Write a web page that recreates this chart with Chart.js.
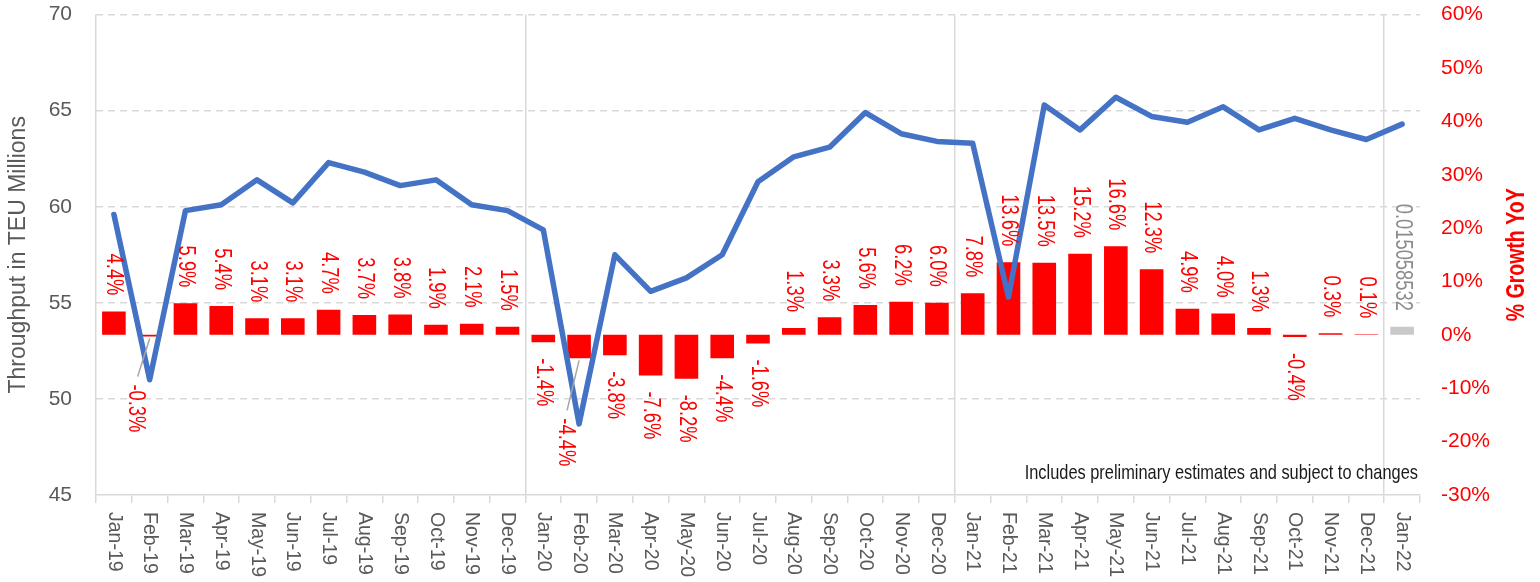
<!DOCTYPE html>
<html>
<head>
<meta charset="utf-8">
<script src="https://cdn.jsdelivr.net/npm/chart.js@4.4.1/dist/chart.umd.min.js"></script>
<style>
  html, body { margin: 0; padding: 0; background: #ffffff; overflow: hidden; }
  #wrap { width: 1540px; height: 582px; position: relative; overflow: hidden; }
  #c { display: block; }
</style>
</head>
<body>
<div id="wrap"><canvas id="c" width="1540" height="582"></canvas></div>
<script>
// ---------------- DATA ----------------
const months = [
  'Jan-19','Feb-19','Mar-19','Apr-19','May-19','Jun-19','Jul-19','Aug-19','Sep-19','Oct-19','Nov-19','Dec-19',
  'Jan-20','Feb-20','Mar-20','Apr-20','May-20','Jun-20','Jul-20','Aug-20','Sep-20','Oct-20','Nov-20','Dec-20',
  'Jan-21','Feb-21','Mar-21','Apr-21','May-21','Jun-21','Jul-21','Aug-21','Sep-21','Oct-21','Nov-21','Dec-21',
  'Jan-22'
];
// Throughput in TEU millions (left axis)
const throughput = [
  59.6, 51.0, 59.8, 60.1, 61.4, 60.2, 62.3, 61.8, 61.1, 61.4, 60.1, 59.8,
  58.8, 48.7, 57.5, 55.6, 56.3, 57.5, 61.3, 62.6, 63.1, 64.9, 63.8, 63.4,
  63.3, 55.3, 65.3, 64.0, 65.7, 64.7, 64.4, 65.2, 64.0, 64.6, 64.0, 63.5,
  64.3
];
// % growth YoY (right axis); last value is the preliminary estimate
const growthPct = [
  4.4, -0.3, 5.9, 5.4, 3.1, 3.1, 4.7, 3.7, 3.8, 1.9, 2.1, 1.5,
  -1.4, -4.4, -3.8, -7.6, -8.2, -4.4, -1.6, 1.3, 3.3, 5.6, 6.2, 6.0,
  7.8, 13.6, 13.5, 15.2, 16.6, 12.3, 4.9, 4.0, 1.3, -0.4, 0.3, 0.1,
  1.5058532
];
const throughputTicks = [45, 50, 55, 60, 65, 70];
const growthTicks = [-30, -20, -10, 0, 10, 20, 30, 40, 50, 60];
const leftTitle = 'Throughput in TEU Millions';
const rightTitle = '% Growth YoY';
const noteText = 'Includes preliminary estimates and subject to changes';

// ---------------- STYLE ----------------
const SANS = "'Liberation Sans', Arial, sans-serif";
const SQUEEZE = 0.78;           // emulate a condensed face
const GRID = '#d9d9d9';
const AXIS_TXT = '#595959';
const RED = '#ff0000';
const BLUE = '#4472c4';
const PRELIM = '#c8c8c8';
const TARGET_TOP = 15;
// labels that were moved by hand in the original (with a leader line)
const movedLabels = { 1: { dx: -14, dy: 32 }, 13: { dx: -14, dy: 44 } };

function drawText(ctx, txt, x, y, rot, align, font, color, squeeze) {
  ctx.save();
  ctx.translate(x, y);
  ctx.rotate(rot);
  ctx.scale(squeeze, 1);
  ctx.font = font;
  ctx.fillStyle = color;
  ctx.textAlign = align;
  ctx.textBaseline = 'middle';
  ctx.fillText(txt, 0, 0);
  ctx.restore();
}

const overlay = {
  id: 'overlay',
  afterDatasetsDraw(chart) {
    const ctx = chart.ctx;
    const meta = chart.getDatasetMeta(1);
    const lastIdx = growthPct.length - 1;
    meta.data.forEach((el, i) => {
      const v = growthPct[i];
      const isLast = i === lastIdx;
      const txt = isLast ? (v / 100).toFixed(9) : v.toFixed(1) + '%';
      const pos = v >= 0;
      const sh = movedLabels[i] || { dx: 0, dy: 0 };
      const x = el.x + sh.dx;
      const y = pos ? el.y - 16 - sh.dy : el.y + 16 + sh.dy;
      if (movedLabels[i]) {
        ctx.save();
        ctx.strokeStyle = '#a6a6a6';
        ctx.lineWidth = 1.5;
        ctx.beginPath();
        ctx.moveTo(x + 2, y - 8);
        ctx.lineTo(el.x, el.y + 2);
        ctx.stroke();
        ctx.restore();
      }
      drawText(ctx, txt, x, y, Math.PI / 2, pos ? 'right' : 'left',
        '23.5px ' + SANS, isLast ? '#8c8c8c' : RED, SQUEEZE);
    });
  },
  afterDraw(chart) {
    const ctx = chart.ctx;
    const xs = chart.scales.x;
    const area = chart.chartArea;
    // x labels, rotated to read top-to-bottom
    chart.data.labels.forEach((lab, i) => {
      drawText(ctx, lab, xs.getPixelForTick(i), area.bottom + 17, Math.PI / 2, 'left',
        '19.5px ' + SANS, AXIS_TXT, 1);
    });
    // right axis title, reading bottom-to-top
    drawText(ctx, rightTitle, chart.width - 23, (area.top + area.bottom) / 2, -Math.PI / 2, 'center',
      'bold 25px ' + SANS, RED, SQUEEZE);
    // note
    drawText(ctx, noteText, area.right - 2, area.bottom - 22, 0, 'right',
      '21px ' + SANS, '#1a1a1a', SQUEEZE);
  }
};

function makeConfig() {
  return {
    data: {
      labels: months,
      datasets: [
        {
          type: 'line',
          label: 'Throughput',
          data: throughput,
          yAxisID: 'y',
          borderColor: BLUE,
          borderWidth: 5.5,
          pointRadius: 0,
          tension: 0,
          borderJoinStyle: 'round',
          borderCapStyle: 'round',
          fill: false,
          order: 0
        },
        {
          type: 'bar',
          label: 'Growth',
          data: growthPct,
          yAxisID: 'y2',
          backgroundColor: (c) => (c.dataIndex === growthPct.length - 1 ? PRELIM : RED),
          borderWidth: 0,
          barPercentage: 0.66,
          categoryPercentage: 1,
          order: 1
        }
      ]
    },
    options: {
      responsive: false,
      maintainAspectRatio: false,
      animation: false,
      devicePixelRatio: 1,
      layout: { padding: { top: TARGET_TOP, left: 0, right: 0, bottom: 0 } },
      plugins: { legend: { display: false }, tooltip: { enabled: false }, title: { display: false } },
      scales: {
        x: {
          type: 'category',
          offset: true,
          grid: {
            offset: true,
            drawTicks: true,
            tickLength: 8,
            tickColor: GRID,
            tickWidth: 1.5,
            lineWidth: 1.5,
            color: (c) => (c.index !== undefined && c.index % 12 === 0 ? GRID : 'rgba(0,0,0,0)')
          },
          border: { display: true, color: GRID, width: 1.5 },
          ticks: { display: false },
          afterFit: (s) => { s.height = 87; }
        },
        y: {
          position: 'left',
          min: 45,
          max: 70,
          afterBuildTicks: (s) => { s.ticks = throughputTicks.map(v => ({ value: v })); },
          grid: {
            drawTicks: false,
            color: (c) => (c.tick && c.tick.value === 45 ? 'rgba(0,0,0,0)' : GRID),
            lineWidth: 1.5
          },
          border: { display: false, dash: [7, 5] },
          ticks: {
            padding: 24,
            color: AXIS_TXT,
            font: { family: SANS, size: 21 }
          },
          title: {
            display: true,
            text: leftTitle,
            color: AXIS_TXT,
            font: { family: SANS, size: 23 },
            padding: { top: 5, bottom: 4 }
          },
          afterFit: (s) => { s.width = 96; }
        },
        y2: {
          position: 'right',
          min: -30,
          max: 60,
          afterBuildTicks: (s) => { s.ticks = growthTicks.map(v => ({ value: v })); },
          grid: { display: false, drawTicks: false },
          border: { display: false },
          ticks: {
            padding: 21,
            color: RED,
            font: { family: SANS, size: 21 },
            callback: (v) => v + '%'
          },
          afterFit: (s) => { s.width = 120; }
        }
      }
    },
    plugins: [overlay]
  };
}

const canvas = document.getElementById('c');
function build(h) {
  canvas.width = 1540;
  canvas.height = h;
  canvas.style.width = '1540px';
  canvas.style.height = h + 'px';
  return new Chart(canvas, makeConfig());
}
let chart = build(582);
const extra = Math.round(chart.chartArea.top - TARGET_TOP);
if (extra > 0) {
  chart.destroy();
  canvas.style.marginTop = (-extra) + 'px';
  chart = build(582 + extra);
}
</script>
</body>
</html>
